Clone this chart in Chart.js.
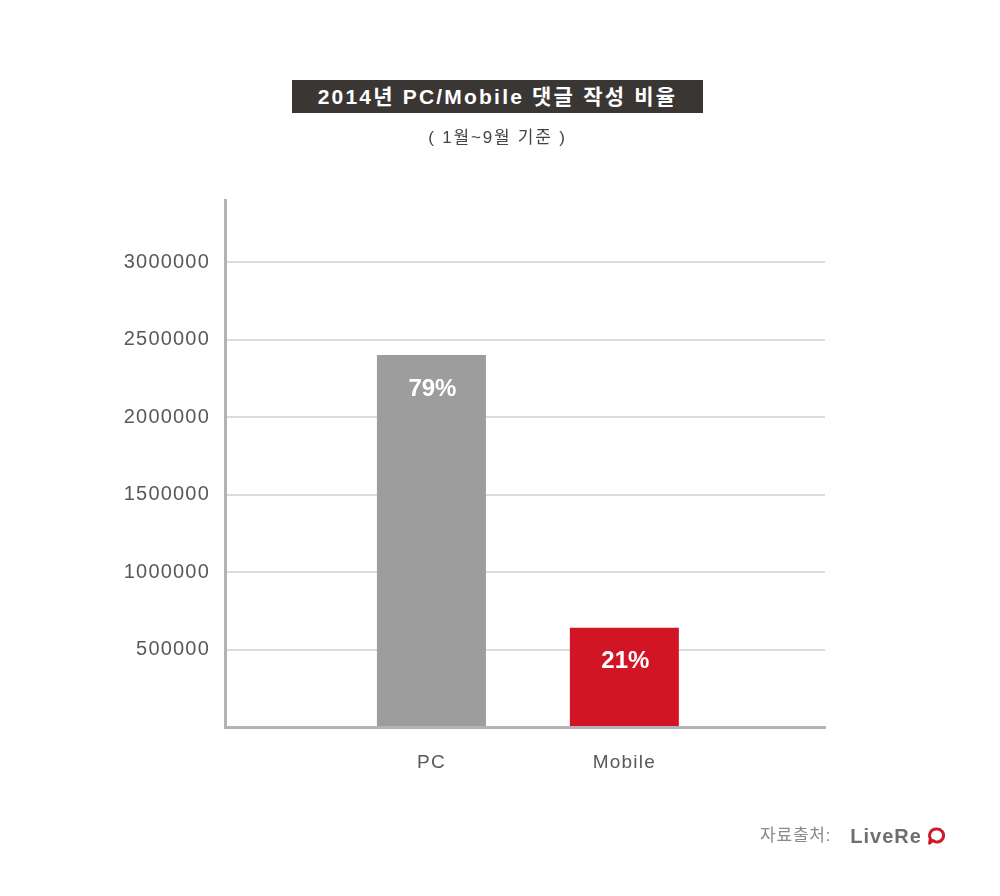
<!DOCTYPE html>
<html>
<head>
<meta charset="utf-8">
<script src="https://cdn.jsdelivr.net/npm/chart.js@4.4.1/dist/chart.umd.min.js"></script>
<style>
  html, body { margin: 0; padding: 0; background: #ffffff; }
  #wrap { position: relative; width: 1000px; height: 896px; overflow: hidden; }
  #c { position: absolute; left: 0; top: 0; }
  .title {
    position: absolute; left: 292px; top: 80px; width: 411px; height: 33px;
    background: #3a3634; color: #ffffff; text-align: center;
    font-family: "Liberation Sans", "Noto Sans CJK KR", sans-serif; font-weight: bold;
    font-size: 21px; line-height: 33px; letter-spacing: 2.2px; white-space: nowrap;
  }
  .subtitle {
    position: absolute; left: 292px; top: 127px; width: 411px; text-align: center;
    font-family: "Liberation Sans", "Noto Sans CJK KR", sans-serif; font-size: 17px;
    color: #444444; letter-spacing: 1.8px; white-space: nowrap; line-height: 22px;
  }
  .source {
    position: absolute; left: 760px; top: 822px; white-space: nowrap;
    font-family: "Liberation Sans", "Noto Sans CJK KR", sans-serif; line-height: 26px;
  }
  .source .lbl { font-size: 17px; color: #8a8a8a; letter-spacing: 0.8px; vertical-align: middle; }
  .source .brand { font-size: 20px; font-weight: bold; color: #6e6e6e; margin-left: 19px; letter-spacing: 1px; vertical-align: middle; }
  .source svg { vertical-align: middle; margin-left: 5px; }
</style>
</head>
<body>
<div id="wrap">
  <canvas id="c" width="1000" height="896"></canvas>
  <div class="title">2014년 PC/Mobile 댓글 작성 비율</div>
  <div class="subtitle">( 1월~9월 기준 )</div>
  <div class="source"><span class="lbl">자료출처:</span><span class="brand">LiveRe</span><svg width="18" height="18" viewBox="0 0 18 18"><path d="M9.5 2 A6.5 6.5 0 1 1 5.8 13.4 L2.6 16.2 L3.4 11.6 A6.5 6.5 0 0 1 9.5 2 Z" fill="none" stroke="#d0182b" stroke-width="3" stroke-linejoin="round"/></svg></div>
</div>
<script>
// ---- data ----
const categories = ['PC', 'Mobile'];
const commentCounts = [2400000, 640000];
const shareLabels = ['79%', '21%'];
const barColors = ['#9d9d9e', '#d11524'];
const yTickValues = [0, 500000, 1000000, 1500000, 2000000, 2500000, 3000000];
const yMin = 0;
const yMax = 3400000;

const points = categories.map((c, i) => ({ x: i + 1, y: commentCounts[i] }));

const spacingPlugin = {
  id: 'spacing',
  beforeUpdate(chart) { chart.ctx.letterSpacing = '1.2px'; },
  beforeDraw(chart) { chart.ctx.letterSpacing = '1.2px'; }
};

const barLabelPlugin = {
  id: 'barLabels',
  afterDatasetsDraw(chart) {
    const ctx = chart.ctx;
    const meta = chart.getDatasetMeta(0);
    ctx.save();
    ctx.letterSpacing = '0px';
    ctx.fillStyle = '#ffffff';
    ctx.font = 'bold 24px "Liberation Sans", Arial, sans-serif';
    ctx.textAlign = 'center';
    ctx.textBaseline = 'middle';
    meta.data.forEach((bar, i) => {
      ctx.fillText(shareLabels[i], bar.x + 1, bar.y + 34);
    });
    ctx.restore();
    ctx.letterSpacing = '1.2px';
  }
};

new Chart(document.getElementById('c'), {
  type: 'bar',
  data: {
    datasets: [{
      data: points,
      backgroundColor: barColors,
      borderWidth: 0,
      barPercentage: 0.565,
      categoryPercentage: 1
    }]
  },
  options: {
    responsive: false,
    animation: false,
    events: [],
    layout: { padding: { left: 0, right: 175, top: 200, bottom: 109 } },
    plugins: { legend: { display: false }, tooltip: { enabled: false }, title: { display: false } },
    scales: {
      x: {
        type: 'linear',
        offset: false,
        min: -0.07,
        max: 3.04,
        afterBuildTicks(scale) { scale.ticks = categories.map((c, i) => ({ value: i + 1 })); },
        afterFit(scale) { scale.height = 60; },
        grid: { display: true, offset: false, drawOnChartArea: false, drawTicks: false, color: 'rgba(0,0,0,0)' },
        border: { display: true, color: '#b3b3b3', width: 3 },
        ticks: {
          autoSkip: false, maxRotation: 0, padding: 24, color: '#595959',
          font: { family: '"Liberation Sans", Arial, sans-serif', size: 19 },
          callback: (v) => categories[v - 1] || ''
        }
      },
      y: {
        min: yMin,
        max: yMax,
        afterBuildTicks(scale) { scale.ticks = yTickValues.map(v => ({ value: v })); },
        afterFit(scale) { scale.width = 225; },
        grid: {
          drawTicks: false, lineWidth: 2,
          color: (ctx) => (ctx.tick && ctx.tick.value === 0) ? 'rgba(0,0,0,0)' : '#dcdcdc'
        },
        border: { display: true, color: '#b3b3b3', width: 3 },
        ticks: {
          autoSkip: false, padding: 15, color: '#595959',
          font: { family: '"Liberation Sans", Arial, sans-serif', size: 20 },
          callback: (v) => v === 0 ? '' : String(v)
        }
      }
    }
  },
  plugins: [spacingPlugin, barLabelPlugin]
});
</script>
</body>
</html>
